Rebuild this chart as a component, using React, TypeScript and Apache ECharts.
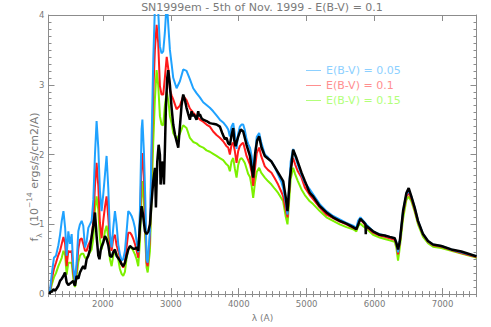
import React, { useEffect, useRef } from 'react';
import * as echarts from 'echarts';

// Wavelength grid (Angstrom) shared by the three dereddened spectra
const wavelengthGrid = [
  1220, 1250, 1280, 1310, 1345, 1370, 1395, 1420, 1445, 1467, 1492, 1516, 1541, 1565, 1590, 1614,
  1639, 1663, 1688, 1712, 1737, 1761, 1786, 1835, 1860, 1884, 1908, 1933, 1957, 1982, 2006, 2031,
  2055, 2080, 2104, 2129, 2153, 2178, 2202, 2227, 2251, 2276, 2300, 2325, 2350, 2374, 2400, 2423,
  2448, 2472, 2497, 2521, 2546, 2570, 2582, 2604, 2624, 2644, 2660, 2693, 2717, 2742, 2766, 2791,
  2815, 2840, 2864, 2889, 2913, 2940, 2967, 2987, 3012, 3036, 3085, 3134, 3183, 3232, 3281, 3330,
  3379, 3428, 3477, 3526, 3575, 3624, 3673, 3722, 3771, 3820, 3845, 3870, 3894, 3919, 3943, 3968,
  3992, 4016, 4041, 4066, 4090, 4115, 4140, 4165, 4190, 4213, 4240, 4265, 4301, 4330, 4384, 4430,
  4482, 4530, 4580, 4630, 4654, 4690, 4718, 4740, 4765, 4801, 4830, 4870, 4924, 4973, 5046, 5095,
  5193, 5291, 5389, 5487, 5585, 5683, 5732, 5757, 5791, 5835, 5879, 5977, 6075, 6150, 6222, 6296,
  6321, 6345, 6370, 6419, 6468, 6502, 6541, 6590, 6639, 6713, 6786, 6860, 6982, 7129, 7276, 7472,
  7500,
];

// E(B-V) = 0.05 (blue)
const fluxEbv005 = [
  0.03, 0.30, 0.52, 0.55, 0.70, 0.85, 1.05, 1.19, 0.95, 0.55, 0.90, 0.72, 0.86, 0.38, 0.19, 0.45,
  0.90, 1.00, 1.05, 0.98, 0.67, 0.75, 0.95, 1.05, 1.35, 2.00, 2.48, 2.10, 1.48, 1.19, 1.43, 1.71,
  1.98, 1.52, 0.86, 0.67, 0.95, 1.19, 1.00, 0.71, 0.57, 0.48, 0.50, 0.62, 0.90, 1.19, 1.16, 1.12,
  1.05, 0.95, 0.75, 0.60, 1.20, 2.36, 2.50, 2.05, 1.40, 0.50, 0.45, 0.90, 2.17, 3.36, 4.10, 4.40,
  4.05, 3.55, 3.45, 3.48, 3.75, 4.20, 3.80, 3.50, 3.30, 3.10, 2.95, 3.05, 3.22, 3.20, 3.08, 2.95,
  2.88, 2.82, 2.75, 2.71, 2.67, 2.62, 2.56, 2.50, 2.46, 2.40, 2.36, 2.26, 2.40, 2.45, 2.30, 2.08,
  2.30, 2.40, 2.43, 2.43, 2.35, 2.22, 2.15, 2.10, 1.98, 1.76, 2.00, 2.25, 2.31, 2.18, 2.00, 1.96,
  1.90, 1.82, 1.71, 1.60, 1.52, 1.32, 1.14, 1.50, 1.90, 2.08, 1.98, 1.85, 1.71, 1.60, 1.50, 1.43,
  1.29, 1.19, 1.12, 1.07, 1.02, 0.98, 0.95, 1.05, 1.10, 1.05, 1.00, 0.90, 0.86, 0.84, 0.82, 0.80,
  0.74, 0.60, 0.76, 1.19, 1.43, 1.48, 1.40, 1.24, 1.05, 0.86, 0.76, 0.71, 0.69, 0.64, 0.60, 0.55,
  0.54,
];

// E(B-V) = 0.1 (red)
const fluxEbv010 = [
  0.02, 0.22, 0.36, 0.45, 0.56, 0.62, 0.72, 0.82, 0.72, 0.40, 0.62, 0.60, 0.62, 0.30, 0.17, 0.35,
  0.65, 0.78, 0.80, 0.72, 0.62, 0.62, 0.70, 0.80, 1.05, 1.55, 1.88, 1.55, 1.02, 0.80, 1.05, 1.25,
  1.40, 1.10, 0.74, 0.62, 0.80, 0.85, 0.70, 0.62, 0.52, 0.42, 0.38, 0.45, 0.68, 0.88, 0.88, 0.85,
  0.79, 0.72, 0.62, 0.52, 0.98, 1.88, 2.02, 1.70, 1.05, 0.45, 0.40, 0.80, 1.93, 2.88, 3.50, 3.86,
  3.60, 2.98, 2.86, 2.86, 3.10, 3.40, 3.20, 2.93, 2.85, 2.79, 2.65, 2.70, 2.84, 2.78, 2.66, 2.60,
  2.55, 2.50, 2.47, 2.43, 2.40, 2.33, 2.28, 2.24, 2.19, 2.12, 2.10, 2.00, 2.14, 2.17, 2.05, 1.88,
  2.05, 2.12, 2.15, 2.17, 2.08, 1.98, 1.92, 1.86, 1.75, 1.55, 1.80, 2.02, 2.10, 1.98, 1.83, 1.78,
  1.74, 1.66, 1.57, 1.46, 1.40, 1.22, 1.10, 1.42, 1.80, 1.95, 1.86, 1.76, 1.67, 1.53, 1.42, 1.36,
  1.24, 1.14, 1.09, 1.04, 1.00, 0.95, 0.93, 1.02, 1.07, 1.02, 0.97, 0.88, 0.84, 0.82, 0.80, 0.78,
  0.72, 0.57, 0.73, 1.15, 1.40, 1.45, 1.37, 1.21, 1.03, 0.85, 0.75, 0.70, 0.68, 0.63, 0.59, 0.54,
  0.53,
];

// E(B-V) = 0.15 (green)
const fluxEbv015 = [
  0.02, 0.14, 0.24, 0.30, 0.40, 0.46, 0.52, 0.62, 0.56, 0.28, 0.45, 0.45, 0.45, 0.22, 0.10, 0.25,
  0.46, 0.55, 0.58, 0.58, 0.52, 0.52, 0.56, 0.64, 0.80, 1.21, 1.40, 1.21, 0.79, 0.64, 0.75, 0.90,
  0.98, 0.82, 0.50, 0.40, 0.55, 0.62, 0.58, 0.50, 0.36, 0.29, 0.26, 0.32, 0.52, 0.64, 0.67, 0.66,
  0.62, 0.57, 0.50, 0.40, 0.75, 1.40, 1.62, 1.35, 0.80, 0.38, 0.31, 0.62, 1.40, 2.17, 2.79, 3.21,
  3.00, 2.55, 2.43, 2.42, 2.70, 2.90, 2.75, 2.55, 2.45, 2.31, 2.22, 2.30, 2.42, 2.38, 2.24, 2.18,
  2.16, 2.12, 2.10, 2.06, 2.04, 2.01, 1.98, 1.95, 1.92, 1.86, 1.84, 1.76, 1.90, 1.95, 1.80, 1.67,
  1.85, 1.93, 1.95, 1.92, 1.88, 1.80, 1.72, 1.68, 1.55, 1.38, 1.60, 1.75, 1.81, 1.74, 1.67, 1.62,
  1.57, 1.51, 1.45, 1.37, 1.33, 1.12, 1.00, 1.30, 1.65, 1.81, 1.72, 1.62, 1.50, 1.42, 1.33, 1.29,
  1.19, 1.10, 1.05, 1.00, 0.96, 0.93, 0.90, 0.97, 1.01, 0.97, 0.94, 0.85, 0.81, 0.79, 0.77, 0.75,
  0.66, 0.48, 0.66, 1.08, 1.35, 1.40, 1.33, 1.18, 1.00, 0.82, 0.73, 0.68, 0.66, 0.62, 0.58, 0.53,
  0.52,
];

// Observed spectrum (black)
const observedWavelength = [
  1215, 1230, 1250, 1270, 1300, 1320, 1345, 1370, 1395, 1420, 1443, 1467, 1492, 1516, 1541, 1565,
  1580, 1590, 1614, 1639, 1663, 1688, 1712, 1737, 1761, 1786, 1810, 1835, 1860, 1884, 1908, 1933,
  1950, 1970, 1982, 2006, 2031, 2055, 2080, 2104, 2129, 2153, 2178, 2202, 2251, 2276, 2300, 2325,
  2350, 2374, 2399, 2423, 2448, 2472, 2497, 2521, 2546, 2570, 2590, 2620, 2644, 2670, 2693, 2718,
  2742, 2767, 2781, 2801, 2821, 2840, 2850, 2870, 2889, 2899, 2914, 2928, 2948, 2963, 2987, 3012,
  3036, 3061, 3085, 3110, 3134, 3159, 3183, 3208, 3232, 3257, 3281, 3306, 3318, 3330, 3355, 3379,
  3404, 3416, 3428, 3452, 3477, 3526, 3575, 3624, 3674, 3723, 3760, 3796, 3821, 3845, 3870, 3895,
  3919, 3935, 3953, 3990, 4030, 4066, 4115, 4165, 4213, 4240, 4270, 4301, 4335, 4384, 4482, 4580,
  4654, 4690, 4718, 4752, 4801, 4850, 4924, 4973, 5046, 5095, 5193, 5291, 5389, 5487, 5585, 5683,
  5732, 5791, 5850, 5866, 5870, 5875, 5977, 6075, 6149, 6222, 6296, 6321, 6345, 6370, 6419, 6468,
  6502, 6541, 6590, 6639, 6713, 6786, 6860, 6982, 7129, 7276, 7472, 7500,
];
const observedFlux = [
  0.00, 0.04, 0.03, 0.07, 0.05, 0.08, 0.12, 0.19, 0.22, 0.26, 0.31, 0.17, 0.13, 0.15, 0.17, 0.19,
  0.14, 0.12, 0.26, 0.22, 0.31, 0.36, 0.40, 0.36, 0.50, 0.55, 0.64, 0.83, 0.98, 1.17, 0.83, 0.55,
  0.50, 0.64, 0.68, 0.74, 0.83, 0.79, 0.70, 0.55, 0.53, 0.60, 0.64, 0.55, 0.48, 0.43, 0.40, 0.45,
  0.55, 0.64, 0.69, 0.67, 0.65, 0.65, 0.67, 0.62, 0.98, 1.26, 1.15, 0.90, 0.86, 0.90, 1.00, 1.33,
  1.62, 1.81, 1.24, 1.90, 2.14, 2.00, 1.57, 1.90, 1.80, 1.57, 2.10, 2.67, 3.10, 3.21, 3.00, 2.67,
  2.43, 2.29, 2.19, 2.10, 2.40, 2.71, 2.86, 2.78, 2.67, 2.58, 2.50, 2.62, 2.55, 2.58, 2.55, 2.50,
  2.62, 2.55, 2.58, 2.52, 2.50, 2.48, 2.45, 2.44, 2.43, 2.40, 2.30, 2.22, 2.24, 2.16, 2.14, 2.28,
  2.38, 2.20, 2.12, 2.25, 2.36, 2.33, 2.14, 1.98, 1.67, 2.00, 2.20, 2.26, 2.10, 1.98, 1.90, 1.74,
  1.62, 1.40, 1.19, 1.65, 2.07, 1.95, 1.74, 1.62, 1.45, 1.40, 1.26, 1.17, 1.10, 1.05, 1.01, 0.96,
  0.93, 1.08, 1.02, 1.00, 0.86, 0.98, 0.90, 0.85, 0.84, 0.82, 0.80, 0.73, 0.64, 0.75, 1.19, 1.45,
  1.52, 1.40, 1.24, 1.05, 0.86, 0.76, 0.71, 0.69, 0.64, 0.61, 0.55, 0.54,
];

const legendNames = ['E(B-V) = 0.05', 'E(B-V) = 0.1', 'E(B-V) = 0.15'];
const titleText = 'SN1999em - 5th of Nov. 1999 - E(B-V) = 0.1';

const AXIS = '#8c8c8c';
const TEXT = '#7a7a7a';
const FONT = 'DejaVu Sans';

function pairs(xs: number[], ys: number[]) {
  return xs.map((x, i) => [x, ys[i]]);
}

export default function App() {
  const ref = useRef<HTMLDivElement>(null);
  useEffect(() => {
    if (!ref.current) return;
    const chart = echarts.init(ref.current, undefined, { renderer: 'svg' });
    const baseX = {
      type: 'value',
      min: 1200,
      max: 7500,
      splitLine: { show: false },
      axisLine: { show: true, onZero: false, lineStyle: { color: AXIS, width: 1 } },
    };
    const baseY = {
      type: 'value',
      min: 0,
      max: 4,
      splitLine: { show: false },
      axisLine: { show: true, onZero: false, lineStyle: { color: AXIS, width: 1 } },
    };
    const option: any = {
      animation: false,
      backgroundColor: '#ffffff',
      title: {
        text: titleText,
        left: 262,
        textAlign: 'center',
        top: 2,
        padding: 0,
        textStyle: { color: TEXT, fontSize: 11, fontWeight: 'normal', fontFamily: FONT },
      },
      legend: {
        orient: 'vertical',
        left: 306,
        top: 63,
        padding: 0,
        itemWidth: 15,
        itemHeight: 1,
        itemGap: 0,
        icon: 'rect',
        textStyle: { fontSize: 11, fontFamily: FONT, lineHeight: 15 },
        data: [
          { name: legendNames[0], itemStyle: { color: '#8cd0ff' }, textStyle: { color: '#8cd0ff' } },
          { name: legendNames[1], itemStyle: { color: '#ff8f8f' }, textStyle: { color: '#ff8f8f' } },
          { name: legendNames[2], itemStyle: { color: '#b2ff7a' }, textStyle: { color: '#b2ff7a' } },
        ],
      },
      grid: { left: 48.5, right: 14.5, top: 15, bottom: 31.5, containLabel: false },
      xAxis: [
        {
          ...baseX,
          position: 'bottom',
          axisTick: { show: true, inside: true, length: 6, lineStyle: { color: AXIS } },
          axisLabel: {
            show: true,
            showMinLabel: false,
            showMaxLabel: false,
            color: TEXT,
            fontSize: 8.5,
            fontFamily: FONT,
            margin: 5,
            formatter: (v: number) => String(v),
          },
          name: 'λ (A)',
          nameLocation: 'middle',
          nameGap: 17,
          nameTextStyle: { color: TEXT, fontSize: 9, fontFamily: FONT },
        },
        {
          ...baseX,
          position: 'top',
          axisTick: { show: true, inside: true, length: 6, lineStyle: { color: AXIS } },
          axisLabel: { show: false },
        },
        {
          ...baseX,
          interval: 100,
          position: 'bottom',
          axisLine: { show: false },
          axisTick: { show: true, inside: true, length: 3, lineStyle: { color: AXIS } },
          axisLabel: { show: false },
        },
        {
          ...baseX,
          interval: 100,
          position: 'top',
          axisLine: { show: false },
          axisTick: { show: true, inside: true, length: 3, lineStyle: { color: AXIS } },
          axisLabel: { show: false },
        },
      ],
      yAxis: [
        {
          ...baseY,
          interval: 1,
          position: 'left',
          axisTick: { show: true, inside: true, length: 6, lineStyle: { color: AXIS } },
          axisLabel: { show: true, color: TEXT, fontSize: 8.5, fontFamily: FONT, margin: 4 },
        },
        {
          ...baseY,
          interval: 1,
          position: 'right',
          axisTick: { show: true, inside: true, length: 6, lineStyle: { color: AXIS } },
          axisLabel: { show: false },
        },
        {
          ...baseY,
          interval: 0.1,
          position: 'left',
          axisLine: { show: false },
          axisTick: { show: true, inside: true, length: 3, lineStyle: { color: AXIS } },
          axisLabel: { show: false },
        },
        {
          ...baseY,
          interval: 0.1,
          position: 'right',
          axisLine: { show: false },
          axisTick: { show: true, inside: true, length: 3, lineStyle: { color: AXIS } },
          axisLabel: { show: false },
        },
      ],
      graphic: [
        {
          type: 'text',
          x: 34,
          y: 177,
          rotation: Math.PI / 2,
          style: {
            text: '{n|f}{sub|λ}{n|  (10}{sup|−14}{n| ergs/s/cm2/A)}',
            align: 'center',
            verticalAlign: 'middle',
            fill: TEXT,
            rich: {
              n: { fontSize: 11, fontFamily: FONT, fill: TEXT, lineHeight: 18, verticalAlign: 'middle' },
              sub: { fontSize: 7.5, fontFamily: FONT, fill: TEXT, lineHeight: 18, verticalAlign: 'bottom' },
              sup: { fontSize: 7.5, fontFamily: FONT, fill: TEXT, lineHeight: 18, verticalAlign: 'top' },
            },
          },
        },
      ],
      series: [
        {
          name: legendNames[2],
          type: 'line',
          xAxisIndex: 2,
          yAxisIndex: 2,
          showSymbol: false,
          clip: true,
          data: pairs(wavelengthGrid, fluxEbv015),
          lineStyle: { color: '#7cf000', width: 2 },
          itemStyle: { color: '#7cf000' },
        },
        {
          name: legendNames[1],
          type: 'line',
          xAxisIndex: 1,
          yAxisIndex: 1,
          showSymbol: false,
          clip: true,
          data: pairs(wavelengthGrid, fluxEbv010),
          lineStyle: { color: '#ff1a1a', width: 2 },
          itemStyle: { color: '#ff1a1a' },
        },
        {
          name: legendNames[0],
          type: 'line',
          xAxisIndex: 3,
          yAxisIndex: 3,
          showSymbol: false,
          clip: true,
          data: pairs(wavelengthGrid, fluxEbv005),
          lineStyle: { color: '#1fa2ff', width: 2 },
          itemStyle: { color: '#1fa2ff' },
        },
        {
          name: 'observed',
          type: 'line',
          xAxisIndex: 0,
          yAxisIndex: 0,
          showSymbol: false,
          clip: true,
          data: pairs(observedWavelength, observedFlux),
          lineStyle: { color: '#000000', width: 2.5 },
          itemStyle: { color: '#000000' },
        },
      ],
    };
    chart.setOption(option);
    return () => chart.dispose();
  }, []);
  return <div ref={ref} style={{ width: 491, height: 327, position: 'absolute', left: 0, top: 0 }} />;
}
